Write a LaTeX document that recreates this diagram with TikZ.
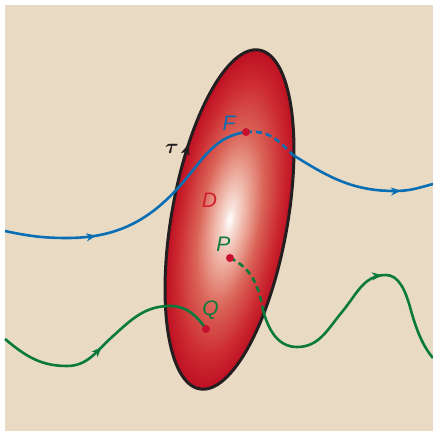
\documentclass[tikz,border=0pt]{standalone}
\usepackage{fontspec}
\setsansfont{Liberation Sans}
\usetikzlibrary{arrows.meta,decorations.markings}
\definecolor{sand}{HTML}{E9DAC4}
\definecolor{flowblue}{HTML}{0A6EB4}
\definecolor{flowgreen}{HTML}{0A7A3C}
\definecolor{dotred}{HTML}{C8102E}
\definecolor{labelred}{HTML}{D0202E}
\definecolor{rim}{HTML}{231F20}
\definecolor{cellpale}{HTML}{F8E1DA}
\definecolor{cellpink}{HTML}{ECAA9B}
\definecolor{cellmid}{HTML}{DA6458}
\definecolor{cellred}{HTML}{CD2D32}
\definecolor{celledge}{HTML}{BE0F23}
\pgfdeclareradialshading{cellglow}{\pgfpoint{0bp}{0bp}}{color(0bp)=(white); color(2bp)=(cellpale);
 color(7bp)=(cellpink); color(13bp)=(cellmid); color(20bp)=(cellred); color(25bp)=(celledge); color(50bp)=(celledge)}

\begin{document}
\begin{tikzpicture}[x=1pt,y=1pt,
 lbl/.style={anchor=base,font=\sffamily\itshape\fontsize{21}{24}\selectfont},
 traj/.style={line width=2.6pt},
 trajdash/.style={traj,dash pattern=on 6pt off 4pt},
 dot/.style={circle,fill=dotred,inner sep=0pt,minimum size=8pt},
 midarrow/.style={postaction={decorate},decoration={markings,
   mark=at position #1 with {\arrow{Stealth[length=10pt,width=8pt,inset=3pt]}}}}]
\path[use as bounding box] (0,0) rectangle (433,434);
\fill[sand] (5,3) rectangle (433,429);

% the region D, shaded and tilted
\begin{scope}[transform canvas={shift={(229.5,214.5)},rotate=80}]
\shade[shading=cellglow] (0,0) ellipse[x radius=172,y radius=58];
\draw[rim,line width=3pt] (0,0) ellipse[x radius=172,y radius=58];
\draw[rim,line width=1.5pt,-{Stealth[length=11pt,width=9pt,inset=3pt]}]
 (76:172 and 58) arc[start angle=76,end angle=67,x radius=172,y radius=58];
\end{scope}

\coordinate (blueIn) at (5,203);
\coordinate (F) at (246,302);
\coordinate (blueX) at (293,279);
\coordinate (blueOut) at (433,250);
\coordinate (greenIn) at (5,95);
\coordinate (Q) at (206,105);
\coordinate (P) at (230,176);
\coordinate (greenX) at (263,124);
\coordinate (greenOut) at (433,76);

% blue trajectory through F
\draw[flowblue,traj,midarrow=92pt] (blueIn) to[out=-12,in=180] (67,196) to[out=0,in=230] (185,254)
 to[out=50,in=188] (F);
\draw[flowblue,trajdash] (F) to[out=5,in=135,looseness=1.1] (blueX);
\draw[flowblue,traj,midarrow=116pt] (blueX) to[out=-32,in=180] (395,243) to[out=0,in=195] (blueOut);

% green trajectories ending at Q and leaving from P
\draw[flowgreen,traj,midarrow=110pt] (greenIn) to[out=-40,in=180] (67,68) to[out=0,in=222] (112,97)
 to[out=42,in=180] (170,128) to[out=0,in=125] (Q);
\draw[flowgreen,trajdash] (P) to[out=-25,in=100] (greenX);
\draw[flowgreen,traj,midarrow=170pt] (greenX) to[out=-75,in=180] (297,87) to[out=0,in=230] (342,122)
 to[out=50,in=180] (386,159) .. controls (398,159) and (405,145) .. (410,127)
 .. controls (415,109) and (421,90) .. (greenOut);

\foreach \p in {F,P,Q}
 \node[dot] (\p dot) at (\p) {};

\node[lbl,text=flowblue] (Flbl) at (229,303) {F};
\node[lbl,text=labelred] (Dlbl) at (209.5,226) {D};
\node[lbl,text=flowgreen] (Plbl) at (223.5,182) {P};
\node[lbl,text=flowgreen] (Qlbl) at (210.5,118) {Q};
\node[anchor=base,text=rim,font=\fontsize{22}{24}\selectfont\boldmath] (tau) at (172,280) {$\tau$};
\end{tikzpicture}
\end{document}
